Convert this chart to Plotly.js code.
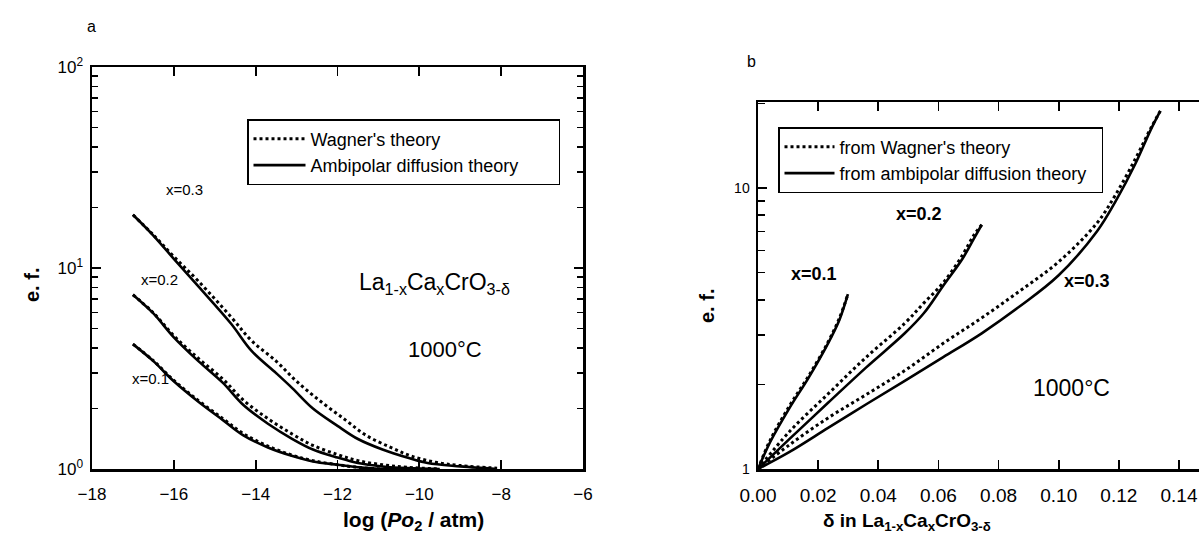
<!DOCTYPE html>
<html>
<head>
<meta charset="utf-8">
<script src="https://cdn.plot.ly/plotly-3.0.1.min.js"></script>
<style>html,body{margin:0;padding:0;background:#fff}#chart{width:1199px;height:536px}</style>
</head>
<body>
<div id="chart"></div>
<script>
// ---- Panel a: e.f. vs log(Po2 / atm) ----
const aX03 = [-17, -16.5, -16, -15.4, -14.6, -14.1, -13.5, -13.1, -12.6, -12, -11.5, -10.9, -10.3, -9.8, -9, -8.1];
const aSolid03 = [18.4, 14.5, 11.1, 8.1, 5.28, 3.87, 3.0, 2.52, 2.0, 1.64, 1.41, 1.25, 1.14, 1.07, 1.03, 1.0];
const aXd03 = [-17, -16.5, -16, -15.4, -14.6, -14.1, -13.5, -13, -12.4, -11.8, -11.3, -10.7, -10.2, -9.6, -9, -8.1];
const aDot03 = [18.4, 14.6, 11.4, 8.6, 5.7, 4.35, 3.44, 2.73, 2.16, 1.75, 1.47, 1.28, 1.16, 1.08, 1.04, 1.01];

const aX02 = [-17, -16.5, -16, -15.4, -14.8, -14.3, -13.7, -13.1, -12.6, -12, -11.5, -10.9, -10.3, -9.5];
const aSolid02 = [7.36, 5.94, 4.52, 3.44, 2.68, 2.08, 1.68, 1.41, 1.25, 1.14, 1.07, 1.03, 1.01, 1.0];
const aDot02 = [7.36, 5.98, 4.6, 3.55, 2.8, 2.2, 1.78, 1.49, 1.31, 1.18, 1.1, 1.05, 1.02, 1.0];

const aX01 = [-17, -16.5, -16, -15.4, -14.8, -14.3, -13.7, -13.1, -12.6, -12, -11.5, -10.9, -10];
const aSolid01 = [4.18, 3.44, 2.73, 2.16, 1.75, 1.47, 1.28, 1.16, 1.09, 1.05, 1.02, 1.0, 1.0];
const aDot01 = [4.18, 3.46, 2.76, 2.19, 1.78, 1.5, 1.3, 1.17, 1.1, 1.05, 1.02, 1.0, 1.0];

const aXTicks = [-18, -16, -14, -12, -10, -8, -6];
const aYTicks = [1, 10, 100];
const aYTickText = ['10<sup>0</sup>', '10<sup>1</sup>', '10<sup>2</sup>'];

// ---- Panel b: e.f. vs delta ----
const bX03 = [0, 0.0105, 0.0233, 0.036, 0.0488, 0.0616, 0.0744, 0.0872, 0.0999, 0.1127, 0.119, 0.1255, 0.1306, 0.1338];
const bSolid03 = [1, 1.15, 1.40, 1.70, 2.06, 2.50, 3.04, 3.80, 4.88, 7.0, 9.0, 12.2, 16.1, 18.8];
const bDot03 = [1, 1.22, 1.52, 1.84, 2.24, 2.80, 3.45, 4.31, 5.45, 7.5, 9.5, 12.7, 16.3, 18.8];

const bX02 = [0, 0.0105, 0.0233, 0.036, 0.0488, 0.0552, 0.0616, 0.068, 0.0718, 0.0744];
const bSolid02 = [1, 1.28, 1.72, 2.30, 3.04, 3.59, 4.49, 5.6, 6.6, 7.4];
const bDot02 = [1, 1.36, 1.85, 2.5, 3.3, 3.9, 4.6, 5.77, 6.8, 7.4];

const bX01 = [0, 0.0041, 0.0105, 0.0169, 0.0233, 0.0271, 0.0299];
const bSolid01 = [1, 1.25, 1.65, 2.12, 2.80, 3.4, 4.19];
const bDot01 = [1, 1.27, 1.68, 2.15, 2.83, 3.45, 4.19];

const bXTicks = [0, 0.02, 0.04, 0.06, 0.08, 0.10, 0.12, 0.14];
const bXTickText = ['0.00', '0.02', '0.04', '0.06', '0.08', '0.10', '0.12', '0.14'];
const bYTicks = [1, 10];
const bYTickText = ['1', '10'];

const FONT = 'Liberation Sans, Arial, Helvetica, sans-serif';
const solid = {color: '#000', width: 2.6, shape: 'spline'};
const dotted = {color: '#000', width: 3, dash: 'dot', shape: 'spline'};

function tr(x, y, line, xa, ya, name, legend, show, group) {
  return {x: x, y: y, type: 'scatter', mode: 'lines', line: line, xaxis: xa, yaxis: ya,
          name: name, legend: legend, showlegend: show, legendgroup: group, hoverinfo: 'skip'};
}

const PAD = '&nbsp;&nbsp;&nbsp;&nbsp;&nbsp;&nbsp;&nbsp;';
const PAD2 = '&nbsp;&nbsp;';
const data = [
  tr(aX01, aDot01, dotted, 'x', 'y', "Wagner's theory", 'legend', true, 'w'),
  tr(aX01, aSolid01, solid, 'x', 'y', 'Ambipolar diffusion theory' + PAD, 'legend', true, 'a'),
  tr(aX02, aDot02, dotted, 'x', 'y', '', 'legend', false, 'w'),
  tr(aX02, aSolid02, solid, 'x', 'y', '', 'legend', false, 'a'),
  tr(aXd03, aDot03, dotted, 'x', 'y', '', 'legend', false, 'w'),
  tr(aX03, aSolid03, solid, 'x', 'y', '', 'legend', false, 'a'),
  tr(bX01, bDot01, dotted, 'x2', 'y2', "from Wagner's theory", 'legend2', true, 'w2'),
  tr(bX01, bSolid01, solid, 'x2', 'y2', 'from ambipolar diffusion theory' + PAD2, 'legend2', true, 'a2'),
  tr(bX02, bDot02, dotted, 'x2', 'y2', '', 'legend2', false, 'w2'),
  tr(bX02, bSolid02, solid, 'x2', 'y2', '', 'legend2', false, 'a2'),
  tr(bX03, bDot03, dotted, 'x2', 'y2', '', 'legend2', false, 'w2'),
  tr(bX03, bSolid03, solid, 'x2', 'y2', '', 'legend2', false, 'a2')
];

const W = 1199, H = 536;
const px = v => v / W;
const py = v => 1 - v / H;

const axisBase = {
  showline: true, linecolor: '#000', linewidth: 2.5, mirror: 'ticks',
  ticks: 'inside', tickcolor: '#000', tickwidth: 1.8, ticklen: 9,
  showgrid: false, zeroline: false, ticklabelstandoff: 8,
  tickfont: {family: FONT, size: 17, color: '#000'}
};

const layout = {
  width: W, height: H,
  margin: {l: 0, r: 0, t: 0, b: 0},
  paper_bgcolor: '#fff', plot_bgcolor: '#fff',
  font: {family: FONT, color: '#000'},
  xaxis: Object.assign({}, axisBase, {
    domain: [px(92), px(583)], range: [-18, -6],
    tickmode: 'array', tickvals: aXTicks, anchor: 'y'
  }),
  yaxis: Object.assign({}, axisBase, {
    domain: [py(469), py(67)], type: 'log', range: [0, 2],
    tickmode: 'array', tickvals: aYTicks, ticktext: aYTickText, anchor: 'x',
    ticklabelstandoff: 3,
    minor: {ticks: 'inside', ticklen: 6, tickwidth: 1.6, tickcolor: '#000', dtick: 'D1', showgrid: false}
  }),
  xaxis2: Object.assign({}, axisBase, {
    domain: [px(758), 1], range: [0, (W - 758) / 3007],
    tickmode: 'array', tickvals: bXTicks, ticktext: bXTickText, anchor: 'y2',
    tickfont: {family: FONT, size: 19, color: '#000'}
  }),
  yaxis2: Object.assign({}, axisBase, {
    domain: [py(469), py(102)], type: 'log', range: [0, 1.306], mirror: false,
    tickmode: 'array', tickvals: bYTicks, ticktext: bYTickText, anchor: 'x2',
    ticklabelstandoff: 3,
    tickfont: {family: FONT, size: 14, color: '#000'},
    minor: {ticks: 'inside', ticklen: 7, tickwidth: 1.6, tickcolor: '#000', dtick: 'D1', showgrid: false}
  }),
  legend: {
    x: px(247), y: py(119), xanchor: 'left', yanchor: 'top',
    bordercolor: '#000', borderwidth: 1.5, bgcolor: '#fff',
    font: {family: FONT, size: 18, color: '#000'},
    itemwidth: 52, tracegroupgap: 0, traceorder: 'normal', itemclick: false
  },
  legend2: {
    x: px(778), y: py(127), xanchor: 'left', yanchor: 'top',
    bordercolor: '#000', borderwidth: 1.5, bgcolor: '#fff',
    font: {family: FONT, size: 18, color: '#000'},
    itemwidth: 50, tracegroupgap: 0, traceorder: 'normal', itemclick: false
  },
  annotations: [
    {text: 'a', x: px(85), y: py(16), xref: 'paper', yref: 'paper', showarrow: false, font: {size: 16}},
    {text: 'b', x: px(751), y: py(51), xref: 'paper', yref: 'paper', showarrow: false, font: {size: 16}},
    {text: '<b>e. f.</b>', x: px(19), y: py(285), xref: 'paper', yref: 'paper', showarrow: false, textangle: -90, font: {size: 20}},
    {text: '<b>log (<i>Po</i><sub>2</sub> / atm)</b>', x: px(341), y: 0, yanchor: 'bottom', xref: 'paper', yref: 'paper', showarrow: false, font: {size: 21}},
    {text: 'x=0.3', x: px(164), y: py(189), xref: 'paper', yref: 'paper', showarrow: false, font: {size: 15}},
    {text: 'x=0.2', x: px(139), y: py(279), xref: 'paper', yref: 'paper', showarrow: false, font: {size: 15}},
    {text: 'x=0.1', x: px(130), y: py(389), xref: 'paper', yref: 'paper', showarrow: false, font: {size: 15}},
    {text: 'La<sub>1-x</sub>Ca<sub>x</sub>CrO<sub>3-δ</sub>', x: px(434), y: py(283), xref: 'paper', yref: 'paper', showarrow: false, font: {size: 23}},
    {text: '1000°C', x: px(445), y: py(349), xref: 'paper', yref: 'paper', showarrow: false, font: {size: 22}},
    {text: '<b>e. f.</b>', x: px(707), y: py(306), xref: 'paper', yref: 'paper', showarrow: false, textangle: -90, font: {size: 20}},
    {text: '<b>δ in La<sub>1-x</sub>Ca<sub>x</sub>CrO<sub>3-δ</sub></b>', x: px(993), y: 0, yanchor: 'bottom', xref: 'paper', yref: 'paper', showarrow: false, font: {size: 19}},
    {text: '<b>x=0.1</b>', x: px(839), y: py(274), xref: 'paper', yref: 'paper', showarrow: false, font: {size: 18}},
    {text: '<b>x=0.2</b>', x: px(944), y: py(214), xref: 'paper', yref: 'paper', showarrow: false, font: {size: 18}},
    {text: '<b>x=0.3</b>', x: px(1112), y: py(281), xref: 'paper', yref: 'paper', showarrow: false, font: {size: 18}},
    {text: '1000°C', x: px(1112), y: py(403), xref: 'paper', yref: 'paper', showarrow: false, font: {size: 23}}
  ]
};

Plotly.newPlot('chart', data, layout, {staticPlot: true, displayModeBar: false});
</script>
</body>
</html>
